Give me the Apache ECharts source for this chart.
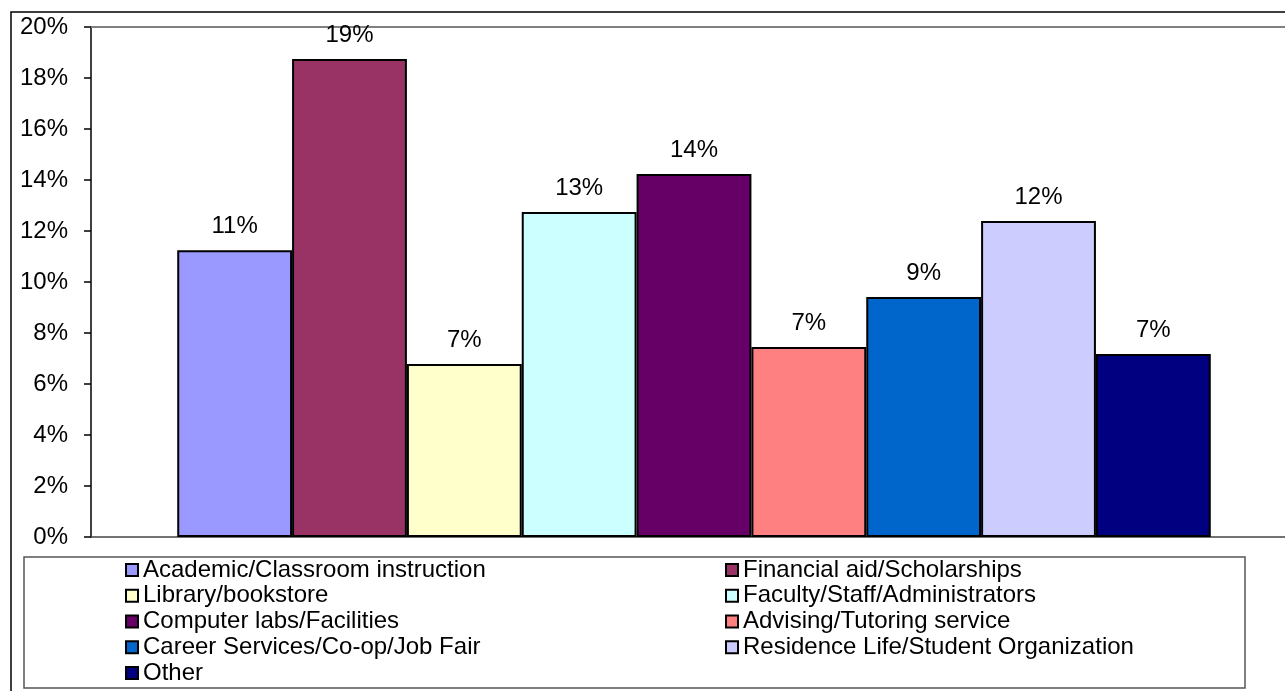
<!DOCTYPE html>
<html>
<head>
<meta charset="utf-8">
<script src="https://cdn.jsdelivr.net/npm/echarts@6/dist/echarts.min.js"></script>
<style>
  html, body { margin: 0; padding: 0; background: #fff; }
  #chart { width: 1285px; height: 691px; }
</style>
</head>
<body>
<div id="chart"></div>
<script>
// one category, each reason is its own series (Excel style clustered column)
var categories = [""];
var seriesNames = [
  "Academic/Classroom instruction",
  "Financial aid/Scholarships",
  "Library/bookstore",
  "Faculty/Staff/Administrators",
  "Computer labs/Facilities",
  "Advising/Tutoring service",
  "Career Services/Co-op/Job Fair",
  "Residence Life/Student Organization",
  "Other"
];
var seriesValues = [11.25, 18.75, 6.78, 12.75, 14.24, 7.45, 9.41, 12.39, 7.18];
var seriesColors = ["#9999FF", "#993366", "#FFFFCC", "#CCFFFF", "#660066", "#FF8080", "#0066CC", "#CCCCFF", "#000080"];
var yTicks = { min: 0, max: 20, interval: 2 };

var chart = echarts.init(document.getElementById("chart"));

var series = seriesNames.map(function (name, i) {
  return {
    name: name,
    type: "bar",
    data: [seriesValues[i]],
    barGap: "0%",
    barCategoryGap: "14.3%",
    itemStyle: { color: seriesColors[i], borderColor: "#000", borderWidth: 2 },
    label: {
      show: true,
      position: "top",
      distance: 12,
      fontFamily: "Liberation Sans, Arial",
      fontSize: 24,
      color: "#000",
      formatter: function (p) { return Math.round(p.value) + "%"; }
    },
    emphasis: { disabled: true }
  };
});

chart.setOption({
  animation: false,
  textStyle: { fontFamily: "Liberation Sans, Arial" },
  grid: {
    left: 91, top: 27, width: 1206, height: 510,
    outerBoundsMode: "none",
    show: false,
    containLabel: false
  },
  graphic: [
    {
      type: "rect", silent: true,
      shape: { x: 11, y: 12, width: 1300, height: 700 },
      style: { fill: "none", stroke: "#000", lineWidth: 1.5 }
    },
    {
      type: "rect", silent: true,
      shape: { x: 24, y: 557, width: 1221, height: 131 },
      style: { fill: "#fff", stroke: "#555", lineWidth: 1.5 }
    }
  ],
  legend: {
    left: 125, top: 557, width: 1250, padding: 0,
    itemWidth: 12, itemHeight: 12, itemGap: 0,
    icon: "rect",
    textStyle: {
      fontFamily: "Liberation Sans, Arial",
      fontSize: 24, color: "#000",
      width: 582, lineHeight: 25.75, overflow: "none"
    },
    data: seriesNames
  },
  xAxis: [
    {
      type: "category",
      data: categories,
      axisLine: { lineStyle: { color: "#444", width: 1.5 } },
      axisTick: { show: false },
      axisLabel: { show: false }
    },
    {
      // top edge of the plot area
      type: "category",
      position: "top",
      data: categories,
      axisLine: { lineStyle: { color: "#808080", width: 2 } },
      axisTick: { show: false },
      axisLabel: { show: false }
    }
  ],
  yAxis: {
    type: "value",
    min: yTicks.min, max: yTicks.max, interval: yTicks.interval,
    axisLine: { show: true, lineStyle: { color: "#000", width: 1.5 } },
    axisTick: { show: true, length: 7, lineStyle: { color: "#000", width: 1.5 } },
    axisLabel: {
      margin: 23, fontSize: 24, color: "#000",
      formatter: "{value}%"
    },
    splitLine: { show: false }
  },
  series: series
});
</script>
</body>
</html>
